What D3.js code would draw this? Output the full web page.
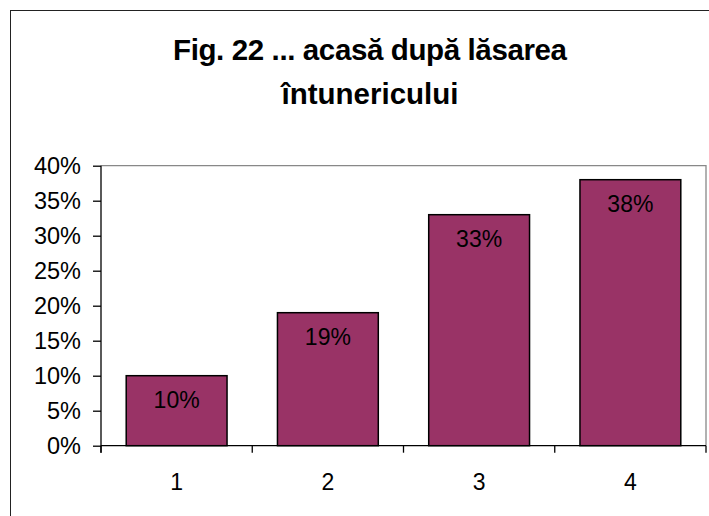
<!DOCTYPE html>
<html>
<head>
<meta charset="utf-8">
<script src="https://cdn.jsdelivr.net/npm/d3@7"></script>
<style>
  html, body { margin: 0; padding: 0; background: #fff; }
  svg { display: block; font-family: "Liberation Sans", Arial, sans-serif; }
</style>
</head>
<body>
<svg id="chart" width="709" height="516"></svg>
<script>
const titleLines = ["Fig. 22 ... acasă după lăsarea", "întunericului"];
const titleWidths = [394, 177];
const categories = ["1", "2", "3", "4"];
const values = [0.10, 0.19, 0.33, 0.38];
const valueLabels = ["10%", "19%", "33%", "38%"];
const yTicks = [0, 0.05, 0.10, 0.15, 0.20, 0.25, 0.30, 0.35, 0.40];

const svg = d3.select("#chart");

// outer frame
svg.append("rect")
  .attr("x", 10.5).attr("y", 10.5)
  .attr("width", 720).attr("height", 530)
  .attr("fill", "none").attr("stroke", "#222").attr("stroke-width", 1);

// title
svg.selectAll("text.title").data(titleLines).join("text")
  .attr("class", "title")
  .attr("text-anchor", "middle")
  .attr("font-weight", "bold")
  .attr("font-size", 29.5)
  .attr("fill", "#000")
  .attr("x", 370)
  .attr("y", (d, i) => 59.5 + i * 44)
  .attr("textLength", (d, i) => titleWidths[i])
  .attr("lengthAdjust", "spacing")
  .text(d => d);

const pLeft = 101, pRight = 706, pTop = 165.7, pBottom = 445.7;

const x = d3.scaleBand().domain(categories).range([pLeft, pRight])
  .paddingInner(1/3).paddingOuter(1/6);
const y = d3.scaleLinear().domain([0, 0.40]).range([pBottom, pTop]);

// plot area border (gray top & right)
svg.append("path")
  .attr("d", `M${pLeft},${pTop}H${pRight}V${pBottom}`)
  .attr("fill", "none").attr("stroke", "#888").attr("stroke-width", 1.3);

// bars
svg.selectAll("rect.bar").data(values).join("rect")
  .attr("class", "bar")
  .attr("x", (d, i) => x(categories[i]))
  .attr("width", x.bandwidth())
  .attr("y", d => y(d))
  .attr("height", d => pBottom - y(d))
  .attr("fill", "#993366")
  .attr("stroke", "#000").attr("stroke-width", 1.5);

// data labels
svg.selectAll("text.lbl").data(values).join("text")
  .attr("class", "lbl")
  .attr("x", (d, i) => x(categories[i]) + x.bandwidth() / 2)
  .attr("y", d => y(d) + 32.5)
  .attr("text-anchor", "middle")
  .attr("font-size", 23)
  .attr("fill", "#000")
  .text((d, i) => valueLabels[i]);

// y axis
const yAxis = d3.axisLeft(y).tickValues(yTicks).tickFormat(d3.format(".0%"))
  .tickSize(8).tickPadding(12);
const gy = svg.append("g").attr("transform", `translate(${pLeft},0)`).call(yAxis);
gy.select(".domain").attr("stroke", "#000").attr("stroke-width", 1.3)
  .attr("d", `M0,${pTop}V${pBottom + 7}`);
gy.selectAll(".tick line").attr("stroke", "#000").attr("stroke-width", 1.3);
gy.selectAll(".tick text").attr("font-size", 23.5).attr("fill", "#000")
  .attr("font-family", "Liberation Sans, Arial, sans-serif");

// x axis
const xAxis = d3.axisBottom(x).tickSize(0).tickPadding(28);
const gx = svg.append("g").attr("transform", `translate(0,${pBottom})`).call(xAxis);
gx.select(".domain").attr("stroke", "#000").attr("stroke-width", 1.3)
  .attr("d", `M${pLeft},0H${pRight}`);
gx.selectAll(".tick text").attr("font-size", 23).attr("fill", "#000")
  .attr("font-family", "Liberation Sans, Arial, sans-serif");
// category boundary ticks
const boundaries = d3.range(categories.length + 1).map(i => pLeft + i * x.step());
gx.selectAll("line.bnd").data(boundaries).join("line")
  .attr("class", "bnd")
  .attr("x1", d => d).attr("x2", d => d)
  .attr("y1", 0).attr("y2", 7)
  .attr("stroke", "#000").attr("stroke-width", 1.3);
</script>
</body>
</html>
